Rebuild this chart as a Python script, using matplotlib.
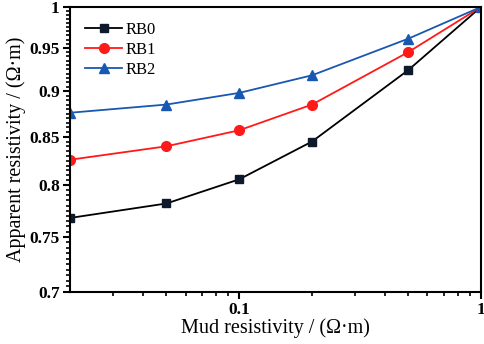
import numpy as np
import matplotlib
matplotlib.use("Agg")
import matplotlib.pyplot as plt
from matplotlib.ticker import FixedLocator, FixedFormatter, NullFormatter

# mud resistivity (ohm.m) and apparent resistivity
mud = [0.02, 0.05, 0.1, 0.2, 0.5, 1.0]
rb0 = [0.768, 0.782, 0.806, 0.845, 0.924, 1.0]
rb1 = [0.826, 0.840, 0.857, 0.885, 0.945, 1.0]
rb2 = [0.876, 0.885, 0.898, 0.918, 0.961, 1.0]

y_ticks = [0.7, 0.75, 0.8, 0.85, 0.9, 0.95, 1.0]
y_labels = ["0.7", "0.75", "0.8", "0.85", "0.9", "0.95", "1"]
x_ticks = [0.1, 1.0]
x_labels = ["0.1", "1"]

plt.rcParams['font.family'] = ['Liberation Serif', 'DejaVu Serif']

fig = plt.figure(figsize=(4.84, 3.44), dpi=100)
ax = fig.add_axes([0.145, 0.151, 0.849, 0.829])

ax.plot(mud, rb0, color="black", marker="s", markersize=6, markerfacecolor="#0e1a2b",
        markeredgecolor="#0e1a2b", lw=1.3, label="RB0")
ax.plot(mud, rb1, color="#ff1a1a", marker="o", markersize=7, lw=1.3, label="RB1")
ax.plot(mud, rb2, color="#1858b0", marker="^", markersize=7, lw=1.3, label="RB2")

ax.set_xscale("log")
ax.set_yscale("log")
ax.set_xlim(0.02, 1.0)
ax.set_ylim(0.7, 1.0)

ax.xaxis.set_major_locator(FixedLocator(x_ticks))
ax.xaxis.set_major_formatter(FixedFormatter(x_labels))
ax.xaxis.set_minor_locator(FixedLocator([0.03, 0.04, 0.05, 0.06, 0.07, 0.08, 0.09,
                                         0.2, 0.3, 0.4, 0.5, 0.6, 0.7, 0.8, 0.9]))
ax.xaxis.set_minor_formatter(NullFormatter())
ax.yaxis.set_major_locator(FixedLocator(y_ticks))
ax.yaxis.set_major_formatter(FixedFormatter(y_labels))
ax.yaxis.set_minor_locator(FixedLocator(np.arange(0.7, 1.0001, 0.005)))
ax.yaxis.set_minor_formatter(NullFormatter())

ax.tick_params(which="major", direction="out", length=5, width=1.5, labelsize=12.5, pad=2.5)
ax.tick_params(which="minor", direction="out", length=3, width=1.2)
for lab in ax.get_xticklabels() + ax.get_yticklabels():
    lab.set_fontweight("bold")
for sp in ax.spines.values():
    sp.set_linewidth(1.5)

ax.set_xlabel("Mud resistivity / (Ω·m)", fontsize=14.5, labelpad=0)
ax.set_ylabel("Apparent resistivity / (Ω·m)", fontsize=14.5, labelpad=2)

ax.legend(loc="upper left", frameon=False, fontsize=12, handlelength=2.2,
          handletextpad=0.2, labelspacing=0.25, borderaxespad=0.5)

fig.savefig("out.png", dpi=100)
